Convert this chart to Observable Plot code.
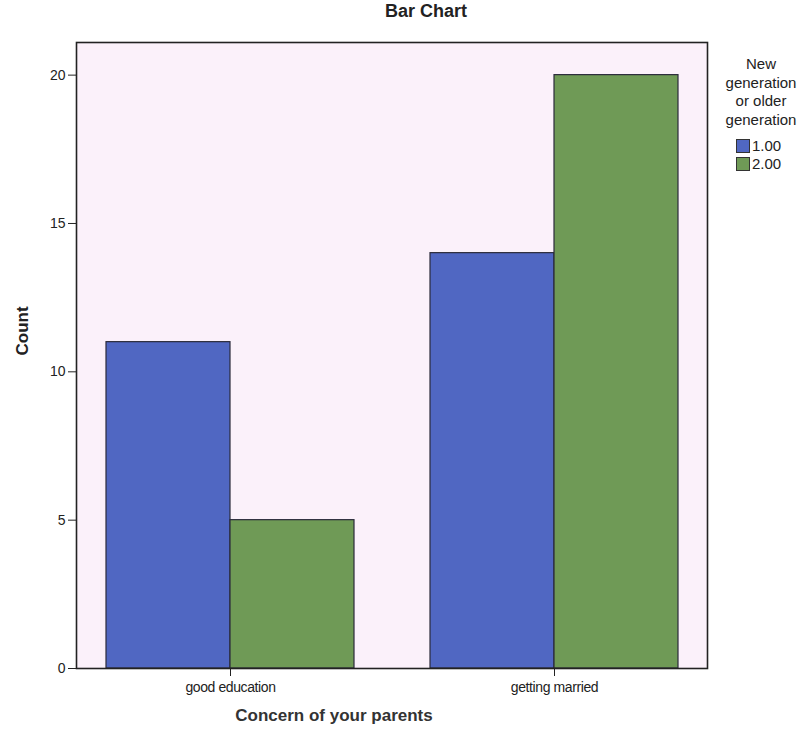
<!DOCTYPE html>
<html>
<head>
<meta charset="utf-8">
<script src="https://cdn.jsdelivr.net/npm/d3@7"></script>
<script src="https://cdn.jsdelivr.net/npm/@observablehq/plot@0.6"></script>
<style>
  body { margin: 0; background: #fff; font-family: "Liberation Sans", Arial, sans-serif; }
  #wrap { position: relative; width: 810px; height: 739px; }
  #title { position: absolute; left: 0; width: 852px; top: 1px; text-align: center; font-weight: bold; font-size: 18px; color: #222; }
  #legend { position: absolute; left: 712px; top: 55px; width: 98px; font-size: 15px; color: #222; }
  #legend .lt { text-align: center; line-height: 18.5px; }
  #legend .item { display: flex; align-items: center; margin-left: 24px; line-height: 18px; font-size: 15px; }
  #legend .sw { width: 12px; height: 12px; border: 1px solid #333; margin-right: 2px; }
  g[aria-label="y-axis tick label"] text, g[aria-label="x-axis tick label"] text { font-size: 14px; }
  g[aria-label="x-axis tick label"] text { letter-spacing: -0.4px; }
</style>
</head>
<body>
<div id="wrap">
  <div id="title">Bar Chart</div>
  <div id="chart"></div>
  <div id="legend"></div>
</div>
<script>
const categories = ["good education", "getting married"];
const groups = ["1.00", "2.00"];
const group1Counts = [11, 14];
const group2Counts = [5, 20];
const yTicks = [0, 5, 10, 15, 20];
const colors = ["#5067c2", "#6f9a56"];
const legendTitle = "New generation or older generation";

const rows1 = categories.map((c, i) => ({category: c, group: groups[0], count: group1Counts[i]}));
const rows2 = categories.map((c, i) => ({category: c, group: groups[1], count: group2Counts[i]}));

const W = 810, H = 739, ml = 76, mr = 103, mt = 42, mb = 71;
const pi = 0.2346, po = 0.091;
const step = (W - ml - mr) / (categories.length - pi + 2 * po);
const half = step * (1 - pi) / 2;

const chart = Plot.plot({
  width: W, height: H,
  marginLeft: ml, marginRight: mr, marginTop: mt, marginBottom: mb,
  style: {fontFamily: "'Liberation Sans', Arial, sans-serif", fontSize: "14px", color: "#222", background: "#fff"},
  x: {domain: categories, paddingInner: pi, paddingOuter: po, label: null},
  y: {domain: [0, 21.1], label: null},
  marks: [
    Plot.frame({fill: "#fbf1fa", stroke: "none"}),
    Plot.barY(rows1, {x: "category", y: "count", fill: colors[0], stroke: "#2a2a3a", strokeWidth: 1.2, insetRight: half}),
    Plot.barY(rows2, {x: "category", y: "count", fill: colors[1], stroke: "#2a2a3a", strokeWidth: 1.2, insetLeft: half}),
    Plot.frame({stroke: "#222", strokeWidth: 1.6}),
    Plot.axisY({ticks: yTicks, tickSize: 8, tickPadding: 3, stroke: "#222", label: null}),
    Plot.axisX({tickSize: 8, tickPadding: 6, stroke: "#222", label: null}),
    Plot.text(["Count"], {frameAnchor: "left", dx: -54, rotate: -90, fontWeight: "bold", fontSize: 17, fill: "#222"}),
    Plot.text(["Concern of your parents"], {frameAnchor: "bottom", dy: 52, dx: -58, fontWeight: "bold", fontSize: 17, fill: "#333"})
  ]
});
document.getElementById("chart").appendChild(chart);

const legend = document.getElementById("legend");
const lt = document.createElement("div");
lt.className = "lt";
lt.innerHTML = "New<br>generation<br>or older<br>generation";
lt.title = legendTitle;
legend.appendChild(lt);
const gap = document.createElement("div");
gap.style.height = "8px";
legend.appendChild(gap);
groups.forEach((g, i) => {
  const it = document.createElement("div");
  it.className = "item";
  const sw = document.createElement("span");
  sw.className = "sw";
  sw.style.background = colors[i];
  it.appendChild(sw);
  it.appendChild(document.createTextNode(g));
  legend.appendChild(it);
});
</script>
</body>
</html>
